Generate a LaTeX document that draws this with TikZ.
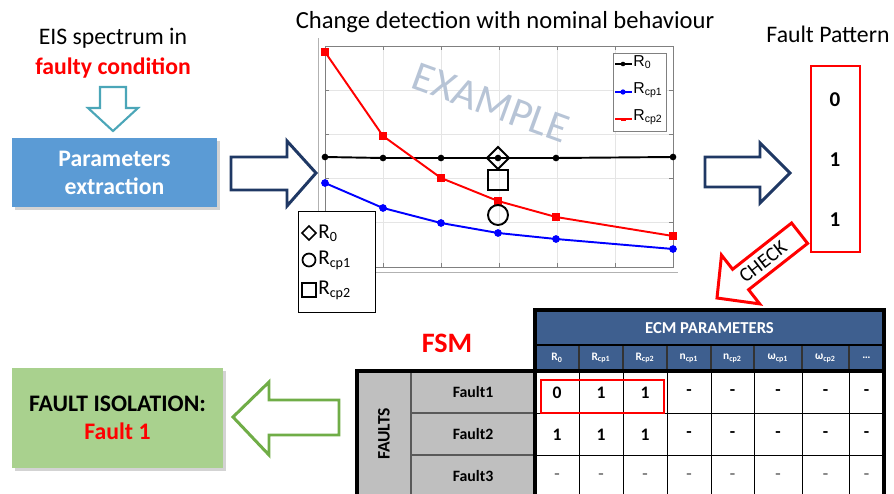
\documentclass[tikz,border=0pt]{standalone}
\usepackage{fontspec}
\setmainfont{Carlito}
\newfontfamily\plotfont{Liberation Sans}
\usetikzlibrary{shadows}
\usetikzlibrary{plotmarks}

\definecolor{navy}{HTML}{1F3864}
\definecolor{tealarr}{HTML}{4BA6B8}
\definecolor{boxblue}{HTML}{5B9BD5}
\definecolor{boxgreen}{HTML}{A9D18E}
\definecolor{arrgreen}{HTML}{70AD47}
\definecolor{hdrblue}{HTML}{3E5F8F}
\definecolor{cellgray}{HTML}{BFBFBF}
\definecolor{wmark}{HTML}{B7C4D6}

\begin{document}
\begin{tikzpicture}[x=0.02cm,y=-0.02cm,
    every node/.style={inner sep=0pt},
    hollow/.style={fill=white, line width=1.7pt, line join=miter},
    shadowbox/.style={rectangle, drop shadow={shadow xshift=1.5pt, shadow yshift=-1.5pt, opacity=0.35}},
    bigfont/.style={font=\fontsize{13.5}{16}\selectfont},
    cellfont/.style={font=\fontsize{10}{12}\selectfont\bfseries}]

	\clip (0,0) rectangle (894,494);

	% input and extraction
	\node[bigfont] (eis) at (113,38) {EIS spectrum in};
	\node[bigfont, red, font=\fontsize{13.5}{16}\selectfont\bfseries] (cond) at (113,68) {faulty condition};
	\node[shadowbox, fill=boxblue, minimum width=4.1cm, minimum height=1.38cm, text=white, align=center,
	      font=\fontsize{13.5}{16}\selectfont\bfseries] (extr) at (114.5,172.5) {Parameters\\extraction};

	% block arrows
	\draw[hollow, draw=tealarr, line width=1.2pt] (100,87) -- (126,87) -- (126,108) -- (138,108) -- (113,131) -- (88,108) -- (100,108) -- cycle;
	\draw[hollow, draw=navy] (231,157) -- (287,157) -- (287,141) -- (316,173) -- (287,206) -- (287,190) -- (231,190) -- cycle;
	\draw[hollow, draw=navy] (705,157) -- (760,157) -- (760,143) -- (790,173) -- (760,203) -- (760,187) -- (705,187) -- cycle;
	\draw[hollow, draw=arrgreen] (233,417) -- (269,382) -- (269,400) -- (339,400) -- (339,435) -- (269,435) -- (269,455) -- cycle;

	% plot
	\node[font=\fontsize{14}{16}\selectfont] (title) at (505,22) {Change detection with nominal behaviour};
	\draw[gray!60] (318,38) -- (318,272) -- (678,272);
	\foreach \i in {1,...,5}
		\draw[gray!20] ({325+58*\i},46) -- ({325+58*\i},267);
	\foreach \j in {1,...,4}
		\draw[gray!20] (325,{46+44.2*\j}) -- (673,{46+44.2*\j});
	\foreach \i in {1,...,5} {
		\draw[gray] ({325+58*\i},46) -- ({325+58*\i},50);
		\draw[gray] ({325+58*\i},267) -- ({325+58*\i},263);
	}
	\foreach \j in {1,...,4} {
		\draw[gray] (325,{46+44.2*\j}) -- (329,{46+44.2*\j});
		\draw[gray] (673,{46+44.2*\j}) -- (669,{46+44.2*\j});
	}
	\draw[gray] (325,46) rectangle (673,267);
	\node[wmark, rotate=-20, font=\fontsize{24}{24}\selectfont] (ex) at (491,103) {EXAMPLE};

	\draw[black, line width=1.1pt, mark=*, mark size=1.3pt] plot coordinates {(325,157) (383,158) (441,158) (498,158) (556,158) (673,157)};
	\draw[blue, line width=1.1pt, mark=*, mark size=1.6pt] plot coordinates {(325,183) (383,208) (441,223) (498,233) (556,239) (673,249)};
	\draw[red, line width=1.1pt, mark=square*, mark size=1.6pt] plot coordinates {(325,52) (383,136) (441,178) (498,201) (556,217) (673,236)};

	% measured values
	\draw[line width=1.1pt] (498,147) -- (509,158) -- (498,169) -- (487,158) -- cycle;
	\draw[line width=1.1pt] (488,170) rectangle (508,190);
	\draw[line width=1.1pt] (498,215) circle [radius=0.2cm];

	% plot legend
	\draw[gray, fill=white] (613,53) rectangle (666,131);
	\draw[black, thick] (615,64) -- (632,64);
	\fill[black] (623,64) circle [radius=1.3pt];
	\draw[blue, thick] (615,92) -- (632,92);
	\fill[blue] (623,92) circle [radius=1.5pt];
	\draw[red, thick] (615,119) -- (632,119);
	\fill[red] (620.5,117.5) rectangle (625.5,120.5);
	\node[anchor=west, font=\plotfont\fontsize{9}{10}\selectfont] (lr0) at (633,62) {R\textsubscript{0}};
	\node[anchor=west, font=\plotfont\fontsize{9}{10}\selectfont] (lr1) at (633,90) {R\textsubscript{cp1}};
	\node[anchor=west, font=\plotfont\fontsize{9}{10}\selectfont] (lr2) at (633,117) {R\textsubscript{cp2}};

	% marker legend
	\draw[black, fill=white] (298,211) rectangle (375,312);
	\draw[line width=1pt] (309,226) -- (316,233) -- (309,240) -- (302,233) -- cycle;
	\draw[line width=1pt] (309,260) circle [radius=0.13cm];
	\draw[line width=1pt] (302,283) rectangle (316,297);
	\node[anchor=west, font=\fontsize{12}{14}\selectfont] (mr0) at (318,233) {R\textsubscript{0}};
	\node[anchor=west, font=\fontsize{12}{14}\selectfont] (mr1) at (318,260) {R\textsubscript{cp1}};
	\node[anchor=west, font=\fontsize{12}{14}\selectfont] (mr2) at (318,290) {R\textsubscript{cp2}};

	% fault pattern
	\node[bigfont] (fp) at (828,34) {Fault Pattern};
	\draw[red, line width=1.5pt] (811,66) rectangle (860,252);
	\node[font=\fontsize{12}{14}\selectfont\bfseries] (p1) at (835,100) {0};
	\node[font=\fontsize{12}{14}\selectfont\bfseries] (p2) at (835,160) {1};
	\node[font=\fontsize{12}{14}\selectfont\bfseries] (p3) at (835,220) {1};

	% check arrow
	\draw[hollow, draw=red] (717,298) -- (721.5,255.1) -- (732.6,269.3) -- (791.6,223.0) -- (807.6,243.4) -- (748.6,289.7) -- (759.7,303.9) -- cycle;
	\node[rotate=38, font=\fontsize{11.5}{13}\selectfont] (chk) at (763,262) {CHECK};

	% FSM table
	\node[red, font=\fontsize{16}{18}\selectfont\bfseries] (fsm) at (447,343) {FSM};
	\fill[hdrblue] (535,310) rectangle (884,371);
	\fill[cellgray] (357,371) rectangle (535,497);
	\foreach \x in {579,623,667,711,754,802,849} {
		\draw[black!80, line width=0.6pt] (\x,345) -- (\x,371);
		\draw[black, line width=0.5pt] (\x,371) -- (\x,497);
	}
	\draw[black, line width=0.8pt] (535,345) -- (884,345);
	\draw[black, line width=0.5pt] (535,413) -- (884,413);
	\draw[black, line width=0.5pt] (535,455) -- (884,455);
	\draw[black!65, line width=1pt] (411,371) -- (411,497);
	\draw[black!65, line width=1pt] (411,413) -- (535,413);
	\draw[black!65, line width=1pt] (411,455) -- (535,455);
	\draw[black, line width=1.8pt] (535,310) rectangle (884,497);
	\draw[black, line width=1.8pt] (535,371) -- (884,371);
	\draw[black, line width=1.8pt] (535,371) -- (357,371) -- (357,497) -- (535,497);

	\node[white, font=\fontsize{9.5}{11}\selectfont\bfseries] (ecm) at (709.5,328) {ECM PARAMETERS};
	\foreach \x/\lab in {557/R\textsubscript{0}, 601/R\textsubscript{cp1}, 645/R\textsubscript{cp2}, 689/n\textsubscript{cp1},
	                     732.5/n\textsubscript{cp2}, 778/ω\textsubscript{cp1}, 825.5/ω\textsubscript{cp2}, 866.5/\ldots}
		\node[white, font=\fontsize{6.5}{8}\selectfont\bfseries] at (\x,358) {\lab};

	\node[rotate=90, font=\fontsize{10}{12}\selectfont\bfseries] (faults) at (384,434) {FAULTS};
	\node[font=\fontsize{9}{11}\selectfont\bfseries] (f1) at (473,392) {Fault1};
	\node[font=\fontsize{9}{11}\selectfont\bfseries] (f2) at (473,434) {Fault2};
	\node[font=\fontsize{9}{11}\selectfont\bfseries] (f3) at (473,476) {Fault3};

	\foreach \x/\v in {557/0, 601/1, 645/1, 689/-, 732.5/-, 778/-, 825.5/-, 866.5/-}
		\node[cellfont] at (\x,393) {\v};
	\foreach \x/\v in {557/1, 601/1, 645/1, 689/-, 732.5/-, 778/-, 825.5/-, 866.5/-}
		\node[cellfont] at (\x,435) {\v};
	\foreach \x in {557, 601, 645, 689, 732.5, 778, 825.5, 866.5}
		\node[cellfont, gray] at (\x,477) {-};

	\draw[red, line width=1.5pt] (541,380) rectangle (664,413);

	% result
	\node[shadowbox, fill=boxgreen, minimum width=4.22cm, minimum height=2cm, align=center,
	      font=\fontsize{13.5}{16}\selectfont\bfseries] (iso) at (117.5,418) {FAULT ISOLATION:\\\textcolor{red}{Fault 1}};

\end{tikzpicture}
\end{document}
